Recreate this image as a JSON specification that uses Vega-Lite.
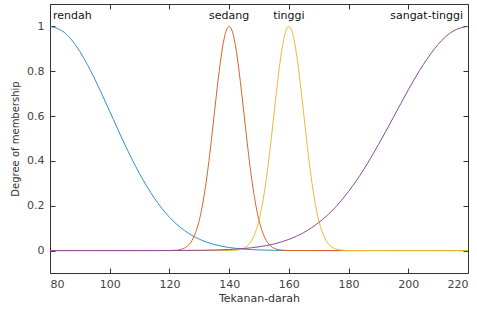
{
  "$schema": "https://vega.github.io/schema/vega-lite/v6.json",
  "width": 418,
  "height": 269,
  "autosize": "none",
  "padding": {"left": 50, "top": 4, "right": 9, "bottom": 38},
  "background": "white",
  "config": {
    "view": {"stroke": "#333333", "strokeWidth": 1},
    "font": "DejaVu Sans",
    "axis": {
      "domain": false,
      "grid": false,
      "tickColor": "#333333",
      "tickSize": -5,
      "labelColor": "#444444",
      "labelFont": "DejaVu Sans",
      "labelFontSize": 11,
      "titleColor": "#333333",
      "titleFont": "DejaVu Sans",
      "titleFontSize": 11,
      "titleFontWeight": "normal"
    }
  },
  "resolve": {"axis": {"x": "independent", "y": "independent"}},
  "datasets": {
    "mf": [
      {"mf": "rendah", "x": 80, "y": 1},
      {"mf": "rendah", "x": 85, "y": 0.971},
      {"mf": "rendah", "x": 90, "y": 0.888},
      {"mf": "rendah", "x": 95, "y": 0.765},
      {"mf": "rendah", "x": 100, "y": 0.621},
      {"mf": "rendah", "x": 105, "y": 0.475},
      {"mf": "rendah", "x": 110, "y": 0.343},
      {"mf": "rendah", "x": 115, "y": 0.233},
      {"mf": "rendah", "x": 120, "y": 0.149},
      {"mf": "rendah", "x": 125, "y": 0.0899},
      {"mf": "rendah", "x": 130, "y": 0.0511},
      {"mf": "rendah", "x": 135, "y": 0.0273},
      {"mf": "rendah", "x": 140, "y": 0.0138},
      {"mf": "rendah", "x": 145, "y": 0.0066},
      {"mf": "rendah", "x": 150, "y": 0.0029},
      {"mf": "rendah", "x": 155, "y": 0.0012},
      {"mf": "rendah", "x": 160, "y": 0.0005},
      {"mf": "rendah", "x": 170, "y": 0},
      {"mf": "rendah", "x": 220, "y": 0},

      {"mf": "sedang", "x": 80, "y": 0},
      {"mf": "sedang", "x": 120, "y": 0.0003},
      {"mf": "sedang", "x": 122, "y": 0.0015},
      {"mf": "sedang", "x": 124, "y": 0.006},
      {"mf": "sedang", "x": 126, "y": 0.0198},
      {"mf": "sedang", "x": 127, "y": 0.034},
      {"mf": "sedang", "x": 128, "y": 0.0561},
      {"mf": "sedang", "x": 129, "y": 0.0889},
      {"mf": "sedang", "x": 130, "y": 0.135},
      {"mf": "sedang", "x": 131, "y": 0.198},
      {"mf": "sedang", "x": 132, "y": 0.278},
      {"mf": "sedang", "x": 133, "y": 0.375},
      {"mf": "sedang", "x": 134, "y": 0.487},
      {"mf": "sedang", "x": 135, "y": 0.607},
      {"mf": "sedang", "x": 136, "y": 0.726},
      {"mf": "sedang", "x": 137, "y": 0.835},
      {"mf": "sedang", "x": 138, "y": 0.923},
      {"mf": "sedang", "x": 139, "y": 0.98},
      {"mf": "sedang", "x": 140, "y": 1},
      {"mf": "sedang", "x": 141, "y": 0.98},
      {"mf": "sedang", "x": 142, "y": 0.923},
      {"mf": "sedang", "x": 143, "y": 0.835},
      {"mf": "sedang", "x": 144, "y": 0.726},
      {"mf": "sedang", "x": 145, "y": 0.607},
      {"mf": "sedang", "x": 146, "y": 0.487},
      {"mf": "sedang", "x": 147, "y": 0.375},
      {"mf": "sedang", "x": 148, "y": 0.278},
      {"mf": "sedang", "x": 149, "y": 0.198},
      {"mf": "sedang", "x": 150, "y": 0.135},
      {"mf": "sedang", "x": 151, "y": 0.0889},
      {"mf": "sedang", "x": 152, "y": 0.0561},
      {"mf": "sedang", "x": 153, "y": 0.034},
      {"mf": "sedang", "x": 154, "y": 0.0198},
      {"mf": "sedang", "x": 156, "y": 0.006},
      {"mf": "sedang", "x": 158, "y": 0.0015},
      {"mf": "sedang", "x": 160, "y": 0.0003},
      {"mf": "sedang", "x": 220, "y": 0},

      {"mf": "tinggi", "x": 80, "y": 0},
      {"mf": "tinggi", "x": 140, "y": 0.0003},
      {"mf": "tinggi", "x": 142, "y": 0.0015},
      {"mf": "tinggi", "x": 144, "y": 0.006},
      {"mf": "tinggi", "x": 146, "y": 0.0198},
      {"mf": "tinggi", "x": 147, "y": 0.034},
      {"mf": "tinggi", "x": 148, "y": 0.0561},
      {"mf": "tinggi", "x": 149, "y": 0.0889},
      {"mf": "tinggi", "x": 150, "y": 0.135},
      {"mf": "tinggi", "x": 151, "y": 0.198},
      {"mf": "tinggi", "x": 152, "y": 0.278},
      {"mf": "tinggi", "x": 153, "y": 0.375},
      {"mf": "tinggi", "x": 154, "y": 0.487},
      {"mf": "tinggi", "x": 155, "y": 0.607},
      {"mf": "tinggi", "x": 156, "y": 0.726},
      {"mf": "tinggi", "x": 157, "y": 0.835},
      {"mf": "tinggi", "x": 158, "y": 0.923},
      {"mf": "tinggi", "x": 159, "y": 0.98},
      {"mf": "tinggi", "x": 160, "y": 1},
      {"mf": "tinggi", "x": 161, "y": 0.98},
      {"mf": "tinggi", "x": 162, "y": 0.923},
      {"mf": "tinggi", "x": 163, "y": 0.835},
      {"mf": "tinggi", "x": 164, "y": 0.726},
      {"mf": "tinggi", "x": 165, "y": 0.607},
      {"mf": "tinggi", "x": 166, "y": 0.487},
      {"mf": "tinggi", "x": 167, "y": 0.375},
      {"mf": "tinggi", "x": 168, "y": 0.278},
      {"mf": "tinggi", "x": 169, "y": 0.198},
      {"mf": "tinggi", "x": 170, "y": 0.135},
      {"mf": "tinggi", "x": 171, "y": 0.0889},
      {"mf": "tinggi", "x": 172, "y": 0.0561},
      {"mf": "tinggi", "x": 173, "y": 0.034},
      {"mf": "tinggi", "x": 174, "y": 0.0198},
      {"mf": "tinggi", "x": 176, "y": 0.006},
      {"mf": "tinggi", "x": 178, "y": 0.0015},
      {"mf": "tinggi", "x": 180, "y": 0.0003},
      {"mf": "tinggi", "x": 220, "y": 0},

      {"mf": "sangat-tinggi", "x": 80, "y": 0},
      {"mf": "sangat-tinggi", "x": 110, "y": 0},
      {"mf": "sangat-tinggi", "x": 120, "y": 0.0002},
      {"mf": "sangat-tinggi", "x": 130, "y": 0.0012},
      {"mf": "sangat-tinggi", "x": 135, "y": 0.0024},
      {"mf": "sangat-tinggi", "x": 140, "y": 0.0048},
      {"mf": "sangat-tinggi", "x": 145, "y": 0.0092},
      {"mf": "sangat-tinggi", "x": 150, "y": 0.0169},
      {"mf": "sangat-tinggi", "x": 155, "y": 0.0296},
      {"mf": "sangat-tinggi", "x": 160, "y": 0.0499},
      {"mf": "sangat-tinggi", "x": 165, "y": 0.0805},
      {"mf": "sangat-tinggi", "x": 170, "y": 0.125},
      {"mf": "sangat-tinggi", "x": 175, "y": 0.185},
      {"mf": "sangat-tinggi", "x": 180, "y": 0.264},
      {"mf": "sangat-tinggi", "x": 185, "y": 0.36},
      {"mf": "sangat-tinggi", "x": 190, "y": 0.473},
      {"mf": "sangat-tinggi", "x": 195, "y": 0.594},
      {"mf": "sangat-tinggi", "x": 200, "y": 0.717},
      {"mf": "sangat-tinggi", "x": 205, "y": 0.829},
      {"mf": "sangat-tinggi", "x": 210, "y": 0.92},
      {"mf": "sangat-tinggi", "x": 215, "y": 0.979},
      {"mf": "sangat-tinggi", "x": 220, "y": 1}
    ],
    "labels": [
      {"mf": "rendah", "x": 80, "y": 1.045},
      {"mf": "sedang", "x": 140, "y": 1.045},
      {"mf": "tinggi", "x": 160, "y": 1.045},
      {"mf": "sangat-tinggi", "x": 220, "y": 1.045}
    ]
  },
  "layer": [
    {
      "data": {"name": "mf"},
      "mark": {"type": "line", "strokeWidth": 1, "interpolate": "monotone", "clip": true},
      "encoding": {
        "x": {
          "field": "x", "type": "quantitative",
          "scale": {"domain": [80, 220], "nice": false, "zero": false},
          "axis": {"orient": "bottom", "values": [80, 100, 120, 140, 160, 180, 200, 220], "title": "Tekanan-darah", "labelPadding": 10, "titlePadding": 3}
        },
        "y": {
          "field": "y", "type": "quantitative",
          "scale": {"domain": [-0.1, 1.1], "nice": false, "zero": false},
          "axis": {"orient": "left", "values": [0, 0.2, 0.4, 0.6, 0.8, 1], "format": "~g", "title": "Degree of membership", "titleFontSize": 10, "labelPadding": 11, "titlePadding": 6}
        },
        "color": {
          "field": "mf", "type": "nominal", "legend": null,
          "scale": {"domain": ["rendah", "sedang", "tinggi", "sangat-tinggi"], "range": ["#2f8fc9", "#d9642f", "#edb93a", "#8a4a9a"]}
        },
        "order": {"field": "x", "type": "quantitative"},
        "detail": {"field": "mf"}
      }
    },
    {
      "data": {"name": "mf"},
      "transform": [{"filter": "false"}],
      "mark": {"type": "point"},
      "encoding": {
        "x": {"field": "x", "type": "quantitative", "axis": {"orient": "top", "values": [80, 100, 120, 140, 160, 180, 200, 220], "labels": false, "title": null}},
        "y": {"field": "y", "type": "quantitative", "axis": {"orient": "right", "values": [0, 0.2, 0.4, 0.6, 0.8, 1], "labels": false, "title": null}}
      }
    },
    {
      "data": {"name": "labels"},
      "transform": [{"filter": "datum.mf == 'rendah'"}],
      "mark": {"type": "text", "align": "left", "baseline": "middle", "dx": 3, "fontSize": 11, "color": "#111111"},
      "encoding": {
        "x": {"field": "x", "type": "quantitative", "axis": null},
        "y": {"field": "y", "type": "quantitative", "axis": null},
        "text": {"field": "mf"}
      }
    },
    {
      "data": {"name": "labels"},
      "transform": [{"filter": "datum.mf == 'sedang' || datum.mf == 'tinggi'"}],
      "mark": {"type": "text", "align": "center", "baseline": "middle", "fontSize": 11, "color": "#111111"},
      "encoding": {
        "x": {"field": "x", "type": "quantitative", "axis": null},
        "y": {"field": "y", "type": "quantitative", "axis": null},
        "text": {"field": "mf"}
      }
    },
    {
      "data": {"name": "labels"},
      "transform": [{"filter": "datum.mf == 'sangat-tinggi'"}],
      "mark": {"type": "text", "align": "right", "baseline": "middle", "dx": -5, "fontSize": 11, "color": "#111111"},
      "encoding": {
        "x": {"field": "x", "type": "quantitative", "axis": null},
        "y": {"field": "y", "type": "quantitative", "axis": null},
        "text": {"field": "mf"}
      }
    }
  ]
}
